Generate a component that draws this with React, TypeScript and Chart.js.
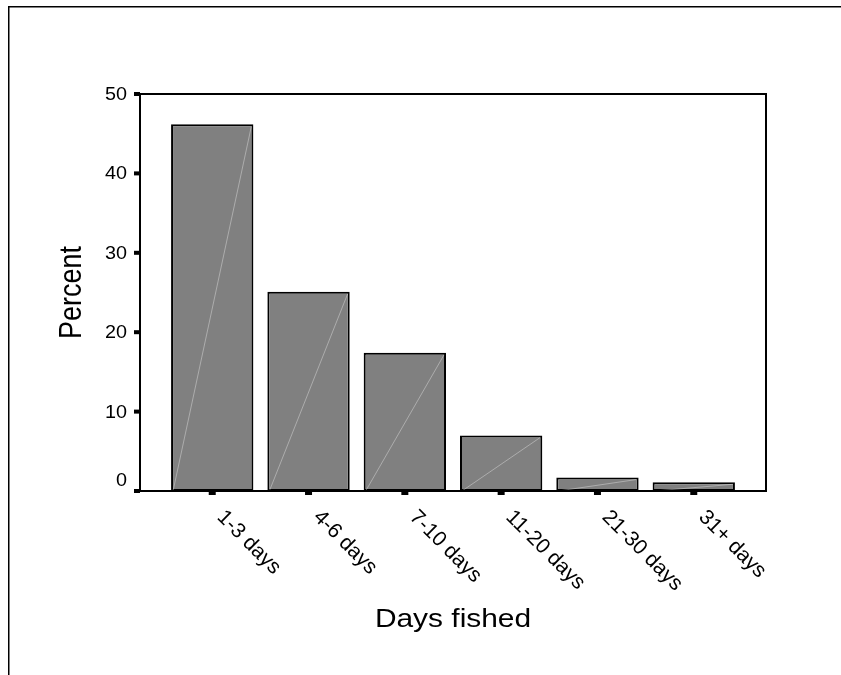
import React, { useEffect, useRef } from "react";
import { Chart, registerables } from "chart.js";

Chart.register(...registerables);

const categories = ["1-3 days", "4-6 days", "7-10 days", "11-20 days", "21-30 days", "31+ days"];
const percentValues = [46.2, 25.1, 17.4, 7.0, 1.7, 1.1];
const yTickValues = [0, 10, 20, 30, 40, 50];
const xTitle = "Days fished";
const yTitle = "Percent";

const FONT = '"Liberation Sans", Arial, sans-serif';

function drawText(
  ctx: CanvasRenderingContext2D,
  text: string,
  x: number,
  y: number,
  size: number,
  rot: number,
  align: CanvasTextAlign,
  baseline: CanvasTextBaseline,
  sx: number
) {
  ctx.save();
  ctx.translate(x, y);
  ctx.scale(sx, 1);
  ctx.rotate(rot);
  ctx.font = `${size}px ${FONT}`;
  ctx.textAlign = align;
  ctx.textBaseline = baseline;
  ctx.fillStyle = "#000";
  ctx.fillText(text, 0, 0);
  ctx.restore();
}

const decorPlugin = {
  id: "decor",
  afterDatasetsDraw(chart: any) {
    const ctx: CanvasRenderingContext2D = chart.ctx;
    const meta = chart.getDatasetMeta(0);
    ctx.save();
    ctx.strokeStyle = "rgba(255,255,255,0.35)";
    ctx.lineWidth = 1;
    meta.data.forEach((bar: any) => {
      const p = bar.getProps(["x", "y", "base", "width"], true);
      const l = p.x - p.width / 2 + 2;
      const r = p.x + p.width / 2 - 2;
      ctx.beginPath();
      ctx.moveTo(l, p.base);
      ctx.lineTo(r, p.y + 2);
      ctx.stroke();
    });
    ctx.restore();
  },
  afterDraw(chart: any) {
    const ctx: CanvasRenderingContext2D = chart.ctx;
    const { left, top, right, bottom } = chart.chartArea;
    const xs = chart.scales.x;
    const ys = chart.scales.y;
    ctx.save();
    // outer frame (top and left)
    ctx.fillStyle = "#000";
    ctx.fillRect(8, 6, 833, 1.5);
    ctx.fillRect(8, 6, 1.5, 669);
    // plot box
    ctx.strokeStyle = "#000";
    ctx.lineWidth = 2;
    ctx.strokeRect(left, top, right - left, bottom - top);
    // y ticks and labels
    yTickValues.forEach((v) => {
      const y = ys.getPixelForValue(v);
      ctx.fillStyle = "#000";
      ctx.fillRect(left - 6, y - 2, 6, 4);
      const ly = v === 0 ? y - 10 : y + 1;
      drawText(ctx, String(v), left - 13, ly, 18, 0, "right", "middle", 1.1);
    });
    // x ticks and labels
    categories.forEach((c, i) => {
      const x = xs.getPixelForValue(i);
      ctx.fillStyle = "#000";
      ctx.fillRect(x - 3.5, bottom, 7, 4);
      drawText(ctx, c, x + 8, bottom + 23, 21, Math.PI / 4, "left", "middle", 1);
    });
    // titles
    drawText(ctx, xTitle, (left + right) / 2, 620, 26, 0, "center", "middle", 1.15);
    drawText(ctx, yTitle, 72, (top + bottom) / 2, 27, -Math.PI / 2, "center", "middle", 1.15);
    ctx.restore();
  },
};

export default function App() {
  const ref = useRef<HTMLCanvasElement | null>(null);
  useEffect(() => {
    if (!ref.current) return;
    const chart = new Chart(ref.current, {
      type: "bar",
      data: {
        datasets: [
          {
            data: categories.map((_, i) => ({ x: i, y: percentValues[i] })),
            backgroundColor: "#808080",
            borderColor: "#000",
            borderWidth: 2,
            borderSkipped: false,
            categoryPercentage: 1,
            barPercentage: 0.855,
          },
        ],
      },
      options: {
        responsive: false,
        animation: false,
        devicePixelRatio: 1,
        layout: { autoPadding: false, padding: { left: 140, top: 94, right: 75, bottom: 184 } },
        plugins: { legend: { display: false }, tooltip: { enabled: false }, title: { display: false } },
        scales: {
          x: {
            type: "linear",
            min: -0.75,
            max: 5.75,
            offset: false,
            bounds: "data",
            display: true,
            afterBuildTicks: (scale: any) => {
              scale.ticks = categories.map((_, i) => ({ value: i }));
            },
            grid: { display: false, drawTicks: false, offset: false },
            border: { display: false },
            ticks: { display: false },
          },
          y: {
            type: "linear",
            min: 0,
            max: 50,
            display: true,
            grid: { display: false, drawTicks: false },
            border: { display: false },
            ticks: { display: false },
          },
        },
      },
      plugins: [decorPlugin],
    } as any);
    return () => chart.destroy();
  }, []);
  return (
    <div style={{ position: "absolute", left: 0, top: 0, width: 841, height: 675, background: "#fff" }}>
      <canvas ref={ref} width={841} height={675} style={{ display: "block", width: 841, height: 675 }} />
    </div>
  );
}
